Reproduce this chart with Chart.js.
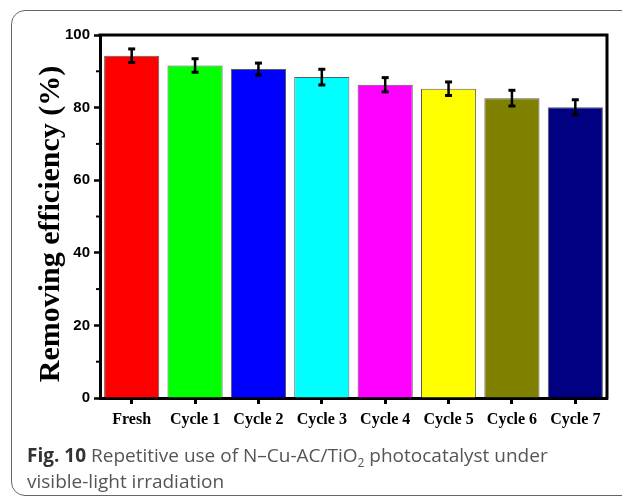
<!DOCTYPE html>
<html>
<head>
<meta charset="utf-8">
<script src="https://cdn.jsdelivr.net/npm/chart.js@4.4.1/dist/chart.umd.min.js"></script>
<style>
  html, body { margin: 0; padding: 0; background: #fff; }
  #wrap { position: relative; width: 622px; height: 499px; overflow: hidden; }
  #frame {
    position: absolute; left: 11px; top: 10px; width: 660px; height: 486px;
    border: 1.5px solid #666; border-radius: 14px; box-sizing: border-box;
  }
  canvas { position: absolute; left: 0; top: 0; }
  #caption {
    position: absolute; left: 27px; top: 442px; width: 590px;
    font-family: "Open Sans", sans-serif; font-size: 19px; line-height: 26px; color: #555;
  }
  #caption b { color: #333; }
</style>
</head>
<body>
<div id="wrap">
  <div id="frame"></div>
  <canvas id="chart" width="622" height="499"></canvas>
  <div id="caption"><b>Fig. 10</b> Repetitive use of N–Cu-AC/TiO<sub style="font-size:12px;line-height:0">2</sub> photocatalyst under<br>visible-light irradiation</div>
</div>
<script>
const categories = ['Fresh', 'Cycle 1', 'Cycle 2', 'Cycle 3', 'Cycle 4', 'Cycle 5', 'Cycle 6', 'Cycle 7'];
const efficiency = [94.3, 91.6, 90.6, 88.4, 86.3, 85.2, 82.6, 80.1];
const errors = [2.0, 2.0, 1.8, 2.3, 2.1, 2.0, 2.3, 2.2];
const barColors = ['#ff0000', '#00ff00', '#0000ff', '#00ffff', '#ff00ff', '#ffff00', '#808000', '#000080'];
const minorTicks = [10, 30, 50, 70, 90];

// error bars, minor ticks and the closed frame on top/right
const extras = {
  id: 'extras',
  afterDatasetsDraw(chart) {
    const { ctx, chartArea: a, scales: { x, y } } = chart;
    ctx.save();
    ctx.strokeStyle = '#000';
    ctx.fillStyle = '#000';
    efficiency.forEach((v, i) => {
      const cx = x.getPixelForValue(i);
      const hi = y.getPixelForValue(v + errors[i]);
      const lo = y.getPixelForValue(v - errors[i]);
      ctx.lineWidth = 2.5;
      ctx.beginPath();
      ctx.moveTo(cx, hi);
      ctx.lineTo(cx, lo);
      ctx.stroke();
      ctx.fillRect(cx - 3.5, hi - 1, 7, 3);
      ctx.fillRect(cx - 3.5, lo - 2, 7, 3);
    });
    ctx.lineWidth = 2;
    minorTicks.forEach(v => {
      const py = y.getPixelForValue(v);
      ctx.beginPath();
      ctx.moveTo(a.left - 4, py);
      ctx.lineTo(a.left, py);
      ctx.stroke();
    });
    ctx.lineWidth = 3;
    ctx.beginPath();
    ctx.moveTo(a.left - 1.5, a.top);
    ctx.lineTo(a.right, a.top);
    ctx.lineTo(a.right, a.bottom + 1.5);
    ctx.stroke();
    ctx.restore();
  }
};

new Chart(document.getElementById('chart'), {
  type: 'bar',
  data: {
    labels: categories,
    datasets: [{
      data: efficiency,
      backgroundColor: barColors,
      borderColor: 'rgba(0,0,0,0.65)',
      borderWidth: 1,
      barPercentage: 0.87,
      categoryPercentage: 1.0,
    }],
  },
  options: {
    responsive: false,
    animation: false,
    devicePixelRatio: 1,
    layout: { padding: { top: 35, right: 15, left: 0, bottom: 0 } },
    plugins: { legend: { display: false }, tooltip: { enabled: false } },
    scales: {
      x: {
        afterFit: s => { s.height = 101; },
        border: { display: true, width: 3, color: '#000' },
        grid: { offset: false, drawOnChartArea: false, tickLength: 6, tickWidth: 3, tickColor: '#000' },
        ticks: {
          color: '#000', padding: 6, maxRotation: 0, autoSkip: false,
          font: { family: '"Liberation Serif", "Times New Roman", serif', size: 16, weight: 'bold' },
        },
      },
      y: {
        min: 0,
        max: 100,
        afterFit: s => { s.width = 100; },
        border: { display: true, width: 3, color: '#000' },
        grid: { drawOnChartArea: false, tickLength: 6, tickWidth: 2.5, tickColor: '#000' },
        ticks: {
          stepSize: 20, color: '#000', padding: 4,
          font: { family: '"Liberation Sans", Arial, sans-serif', size: 15, weight: 'bold' },
        },
        title: {
          display: true,
          // two trailing spaces nudge the rotated text down to sit like the original
          text: 'Removing efficiency (%)  ',
          color: '#000',
          padding: { top: 33, bottom: 0 },
          font: { family: '"Liberation Serif", "Times New Roman", serif', size: 30, weight: 'bold' },
        },
      },
    },
  },
  plugins: [extras],
});
</script>
</body>
</html>
